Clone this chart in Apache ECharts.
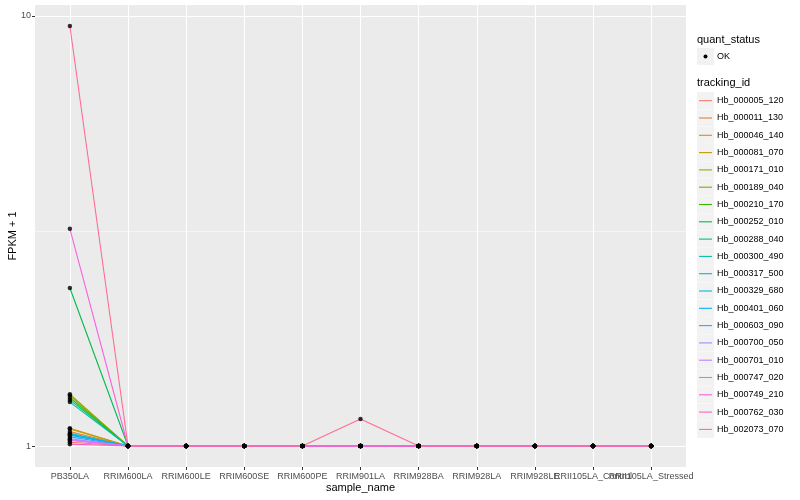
<!DOCTYPE html>
<html><head><meta charset="utf-8">
<script src="https://cdn.jsdelivr.net/npm/echarts@6/dist/echarts.min.js"></script>
<style>html,body{margin:0;padding:0;background:#fff}#c{width:800px;height:500px}</style>
</head><body><div id="c"></div>
<script>
const samples = ['PB350LA','RRIM600LA','RRIM600LE','RRIM600SE','RRIM600PE','RRIM901LA','RRIM928BA','RRIM928LA','RRIM928LE','RRII105LA_Control','RRII105LA_Stressed'];
const ids = ['Hb_000005_120','Hb_000011_130','Hb_000046_140','Hb_000081_070','Hb_000171_010','Hb_000189_040','Hb_000210_170','Hb_000252_010','Hb_000288_040','Hb_000300_490','Hb_000317_500','Hb_000329_680','Hb_000401_060','Hb_000603_090','Hb_000700_050','Hb_000701_010','Hb_000747_020','Hb_000749_210','Hb_000762_030','Hb_002073_070'];
const colors = ['#F8766D','#EA8331','#D89000','#C09B00','#A3A500','#7CAE00','#39B600','#00BB4E','#00BF7D','#00C1A3','#00BFC4','#00BAE0','#00B0F6','#35A2FF','#9590FF','#C77CFF','#E76BF3','#FA62DB','#FF62BC','#FF6C91'];
// FPKM + 1 per sample (one value per tracking_id, in ids order)
const PB350LA    = [1.02,1.08,1.10,1.095,1.32,1.31,1.295,2.33,1.28,1.265,1.07,1.065,1.06,1.05,1.04,1.035,1.03,3.2,1.01,9.48];
const RRIM600LA  = [1,1,1,1,1,1,1,1,1,1,1,1,1,1,1,1,1,1,1,1];
const RRIM600LE  = [1,1,1,1,1,1,1,1,1,1,1,1,1,1,1,1,1,1,1,1];
const RRIM600SE  = [1,1,1,1,1,1,1,1,1,1,1,1,1,1,1,1,1,1,1,1];
const RRIM600PE  = [1,1,1,1,1,1,1,1,1,1,1,1,1,1,1,1,1,1,1,1];
const RRIM901LA  = [1,1,1,1,1,1,1,1,1,1,1,1,1,1,1,1,1,1,1,1.155];
const RRIM928BA  = [1,1,1,1,1,1,1,1,1,1,1,1,1,1,1,1,1,1,1,1];
const RRIM928LA  = [1,1,1,1,1,1,1,1,1,1,1,1,1,1,1,1,1,1,1,1];
const RRIM928LE  = [1,1,1,1,1,1,1,1,1,1,1,1,1,1,1,1,1,1,1,1];
const RRII105LA_Control  = [1,1,1,1,1,1,1,1,1,1,1,1,1,1,1,1,1,1,1,1];
const RRII105LA_Stressed = [1,1,1,1,1,1,1,1,1,1,1,1,1,1,1,1,1,1,1,1];
const columns = [PB350LA,RRIM600LA,RRIM600LE,RRIM600SE,RRIM600PE,RRIM901LA,RRIM928BA,RRIM928LA,RRIM928LE,RRII105LA_Control,RRII105LA_Stressed];
const yTicks = [1, 10];
const yMinor = [Math.sqrt(10)];

const FONT = 'Liberation Sans, Arial, sans-serif';
const L = Math.log10;
const xIdx = samples.map((s,i)=>i);
const xEven = xIdx.filter(i=>i%2===0);
const xOdd = xIdx.filter(i=>i%2===1);

const series = ids.map((id,k)=>({
  name:id, type:'line', xAxisIndex:0, yAxisIndex:0,
  data: columns.map((col,i)=>[i, L(col[k])]),
  showSymbol:false, symbol:'none', silent:true,
  lineStyle:{color:colors[k], width:1.1}, itemStyle:{color:colors[k]}, z:2
}));
const pts = [];
ids.forEach((id,k)=>columns.forEach((col,i)=>pts.push([i, L(col[k])])));
series.push({name:'OK', type:'scatter', xAxisIndex:0, yAxisIndex:0, data:pts, symbol:'circle', symbolSize:4.5, itemStyle:{color:'#000'}, silent:true, z:5});

const yMin = -0.0488, yMax = 1.0256;
const graphic = [];
graphic.push({type:'text', x:697, y:40, style:{text:'quant_status', font:'11px '+FONT, fill:'#000', verticalAlign:'middle'}});
graphic.push({type:'rect', shape:{x:697,y:48,width:17,height:17}, style:{fill:'#F2F2F2'}});
graphic.push({type:'circle', shape:{cx:705.5,cy:56.5,r:2}, style:{fill:'#000'}});
graphic.push({type:'text', x:717, y:56.5, style:{text:'OK', font:'9px '+FONT, fill:'#000', verticalAlign:'middle'}});
graphic.push({type:'text', x:697, y:83, style:{text:'tracking_id', font:'11px '+FONT, fill:'#000', verticalAlign:'middle'}});
ids.forEach((id,k)=>{
  const cy = 100.7 + 17.3*k;
  graphic.push({type:'rect', shape:{x:697,y:cy-8.5,width:17,height:17}, style:{fill:'#F2F2F2'}});
  graphic.push({type:'line', shape:{x1:699,y1:cy,x2:712,y2:cy}, style:{stroke:colors[k], lineWidth:1.1}});
  graphic.push({type:'text', x:717, y:cy, style:{text:id, font:'9px '+FONT, fill:'#000', verticalAlign:'middle'}});
});

const xLabelStyle = {formatter:v=>samples[Math.round(v)], fontFamily:FONT, fontSize:9, color:'#4D4D4D', margin:5, hideOverlap:false};

const chart = echarts.init(document.getElementById('c'), null, {renderer:'canvas'});
chart.setOption({
  animation:false,
  grid:{left:35, right:114, top:5, bottom:33, show:true, backgroundColor:'#EBEBEB', borderWidth:0, containLabel:false, outerBoundsMode:'none'},
  xAxis:[{
    type:'value', min:-0.6, max:10.6, position:'bottom', offset:0,
    name:'sample_name', nameLocation:'middle', nameGap:15, nameMoveOverlap:false,
    nameTextStyle:{fontFamily:FONT, fontSize:11, color:'#000'},
    axisLine:{show:false, onZero:false},
    axisTick:{show:true, length:3, lineStyle:{color:'#333'}, customValues:xIdx},
    axisLabel:Object.assign({customValues:xEven}, xLabelStyle),
    splitLine:{show:true, lineStyle:{color:'#fff', width:1.1}}
  },{
    type:'value', min:-0.6, max:10.6, position:'bottom', offset:0,
    axisLine:{show:false, onZero:false},
    axisTick:{show:false, customValues:xOdd},
    axisLabel:Object.assign({customValues:xOdd}, xLabelStyle),
    splitLine:{show:false}
  }],
  yAxis:[{
    type:'value', min:yMin, max:yMax, position:'left',
    name:'FPKM + 1', nameLocation:'middle', nameGap:17, nameMoveOverlap:false,
    nameTextStyle:{fontFamily:FONT, fontSize:11, color:'#000'},
    axisLine:{show:false, onZero:false},
    axisTick:{show:true, length:3, lineStyle:{color:'#333'}, customValues:yTicks.map(L)},
    axisLabel:{customValues:yTicks.map(L), formatter:v=>String(Math.round(Math.pow(10,v))), fontFamily:FONT, fontSize:9, color:'#4D4D4D', margin:4},
    splitLine:{show:true, lineStyle:{color:'#fff', width:1.1}}
  },{
    type:'value', min:yMin, max:yMax, position:'left',
    axisLine:{show:false, onZero:false}, axisLabel:{show:false},
    axisTick:{show:false, customValues:yMinor.map(L)},
    splitLine:{show:true, lineStyle:{color:'#fff', width:0.5}}
  }],
  series:series,
  graphic:graphic
});
</script></body></html>
